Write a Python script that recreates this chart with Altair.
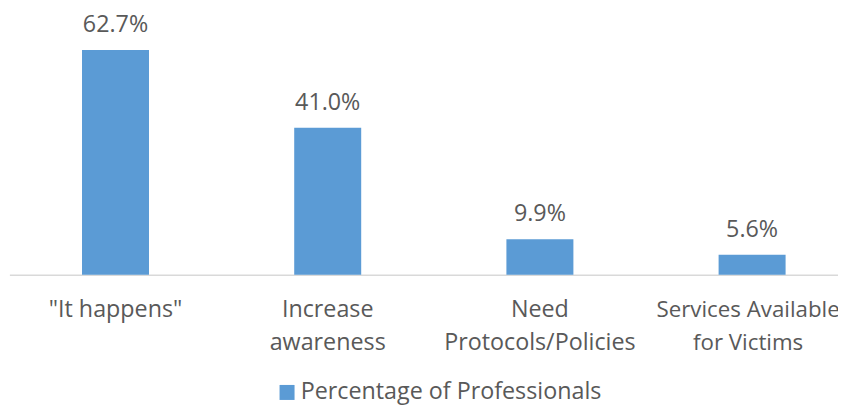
import altair as alt
import pandas as pd

categories = ['"It happens"', "Increase awareness", "Need Protocols/Policies", "Services Available for Victims"]
values = [62.7, 41.0, 9.9, 5.6]
value_labels = ["62.7%", "41.0%", "9.9%", "5.6%"]
series_name = "Percentage of Professionals"

df = pd.DataFrame({
    "category": categories,
    "value": values,
    "label": value_labels,
    "series": [series_name] * len(categories),
})

label_expr = (
    "datum.value == '\"It happens\"' ? ['\"It happens\"'] : "
    "datum.value == 'Increase awareness' ? ['Increase', 'awareness'] : "
    "datum.value == 'Need Protocols/Policies' ? ['Need', 'Protocols/Policies'] : "
    "['Services Available', 'for Victims']"
)

FONT = "Open Sans"
FS = 23.3
TXT = "#595959"
BLUE = "#5b9bd5"
LAST = "datum.value === 'Services Available for Victims'"

x = alt.X(
    "category:N",
    sort=categories,
    title=None,
    scale=alt.Scale(paddingInner=0.6843, paddingOuter=0.2955, align=0.579),
    axis=alt.Axis(
        labelExpr=label_expr,
        labelAngle=0,
        labelFont=FONT,
        labelFontSize={"condition": {"test": LAST, "value": 22.3}, "value": FS},
        labelOffset={"condition": {"test": LAST, "value": -4}, "value": 0},
        labelColor=TXT,
        labelLineHeight=33,
        labelPadding=24,
        labelBaseline="top",
        ticks=False,
        domainColor="#d9d9d9",
        domainWidth=1.5,
        labelLimit=400,
    ),
)
y = alt.Y("value:Q", scale=alt.Scale(domain=[0, 70]), axis=None)

bars = alt.Chart(df).mark_bar(color=BLUE).encode(
    x=x,
    y=y,
    color=alt.Color(
        "series:N",
        scale=alt.Scale(range=[BLUE]),
        legend=alt.Legend(
            title=None,
            orient="none",
            legendX=266,
            legendY=357,
            symbolType="square",
            symbolSize=225,
            symbolStrokeWidth=0,
            labelFont=FONT,
            labelFontSize=FS,
            labelColor=TXT,
            labelOffset=2,
            labelLimit=500,
        ),
    ),
)

text = alt.Chart(df).mark_text(
    font=FONT, fontSize=FS, color=TXT, baseline="alphabetic", dy=-18
).encode(x=alt.X("category:N", sort=categories), y=y, text="label:N")

chart = (
    alt.layer(bars, text)
    .properties(
        width=829,
        height=251,
        background="white",
        autosize=alt.AutoSizeParams(type="none"),
        padding={"left": 1.4, "top": 15.8, "right": 0, "bottom": 134},
    )
    .configure_view(stroke=None, strokeWidth=0)
)

chart.save("out.html", embed_options={"renderer": "svg", "actions": False})
